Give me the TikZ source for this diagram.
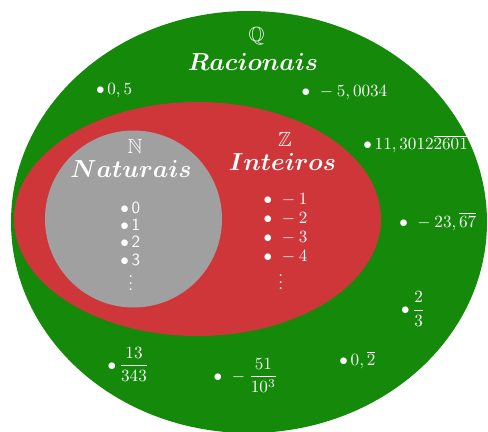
\documentclass[tikz,border=0pt]{standalone}
\usepackage{amsmath,amssymb}
\definecolor{qgreen}{RGB}{20,137,10}
\definecolor{zred}{RGB}{206,54,58}
\definecolor{ngray}{RGB}{160,160,160}
\begin{document}
\begin{tikzpicture}[x=0.585pt,y=-0.585pt,
  lbl/.style={text=white,inner sep=0pt,anchor=base west},
  ttl/.style={text=white,inner sep=0pt,anchor=base,font=\Large\boldmath},
  setsym/.style={text=white,inner sep=0pt,anchor=base,font=\large}]
\useasboundingbox (0,0) rectangle (488,432);
\clip (0,0) rectangle (488,432);
\fill[qgreen] (249,222) ellipse [x radius=238, y radius=211];
\fill[zred] (197.5,219) ellipse [x radius=183.5, y radius=117];
\fill[ngray] (133.5,219) circle [radius=88.5];
% titles
\node[setsym] (Qs) at (256.7,41.7) {$\mathbb{Q}$};
\node[ttl] (Qt) at (253,70) {$Racionais$};
\node[setsym] (Ns) at (135,153.3) {$\mathbb{N}$};
\node[ttl] (Nt) at (131,177.3) {$Naturais$};
\node[setsym] (Zs) at (285,146.7) {$\mathbb{Z}$};
\node[ttl] (Zt) at (282.5,170) {$Inteiros$};
% naturals
\node[lbl] (n0) at (120,213.3) {$\bullet$\,\textsf{0}};
\node[lbl] (n1) at (120,230.3) {$\bullet$\,\textsf{1}};
\node[lbl] (n2) at (120,247.3) {$\bullet$\,\textsf{2}};
\node[lbl] (n3) at (120,265.3) {$\bullet$\,\textsf{3}};
\node[text=white,inner sep=0pt] (nd) at (130.7,278) {$\vdots$};
% integers
\node[lbl] (z1) at (263.4,204.3) {$\bullet\ {}-1$};
\node[lbl] (z2) at (263.4,223.3) {$\bullet\ {}-2$};
\node[lbl] (z3) at (263.4,242.6) {$\bullet\ {}-3$};
\node[lbl] (z4) at (263.4,261.6) {$\bullet\ {}-4$};
\node[text=white,inner sep=0pt] (zd) at (280.7,277) {$\vdots$};
% rationals
\node[lbl] (r1) at (95.7,94.3) {$\bullet\,0,5$};
\node[lbl] (r2) at (301.4,96.6) {$\bullet\ {}-5,0034$};
\node[lbl] (r3) at (363,149.3) {$\bullet\,11,3012\overline{2601}$};
\node[lbl] (r4) at (399,227) {$\bullet\ {}-23,\overline{67}$};
\node[lbl] (r5) at (400.7,314.3) {$\bullet\,\dfrac{2}{3}$};
\node[lbl] (r6) at (339,365.3) {$\bullet\,0,\overline{2}$};
\node[lbl] (r7) at (213.4,381) {$\bullet\ {}-\dfrac{51}{10^3}$};
\node[lbl] (r8) at (107.4,370) {$\bullet\,\dfrac{13}{343}$};
\end{tikzpicture}
\end{document}
